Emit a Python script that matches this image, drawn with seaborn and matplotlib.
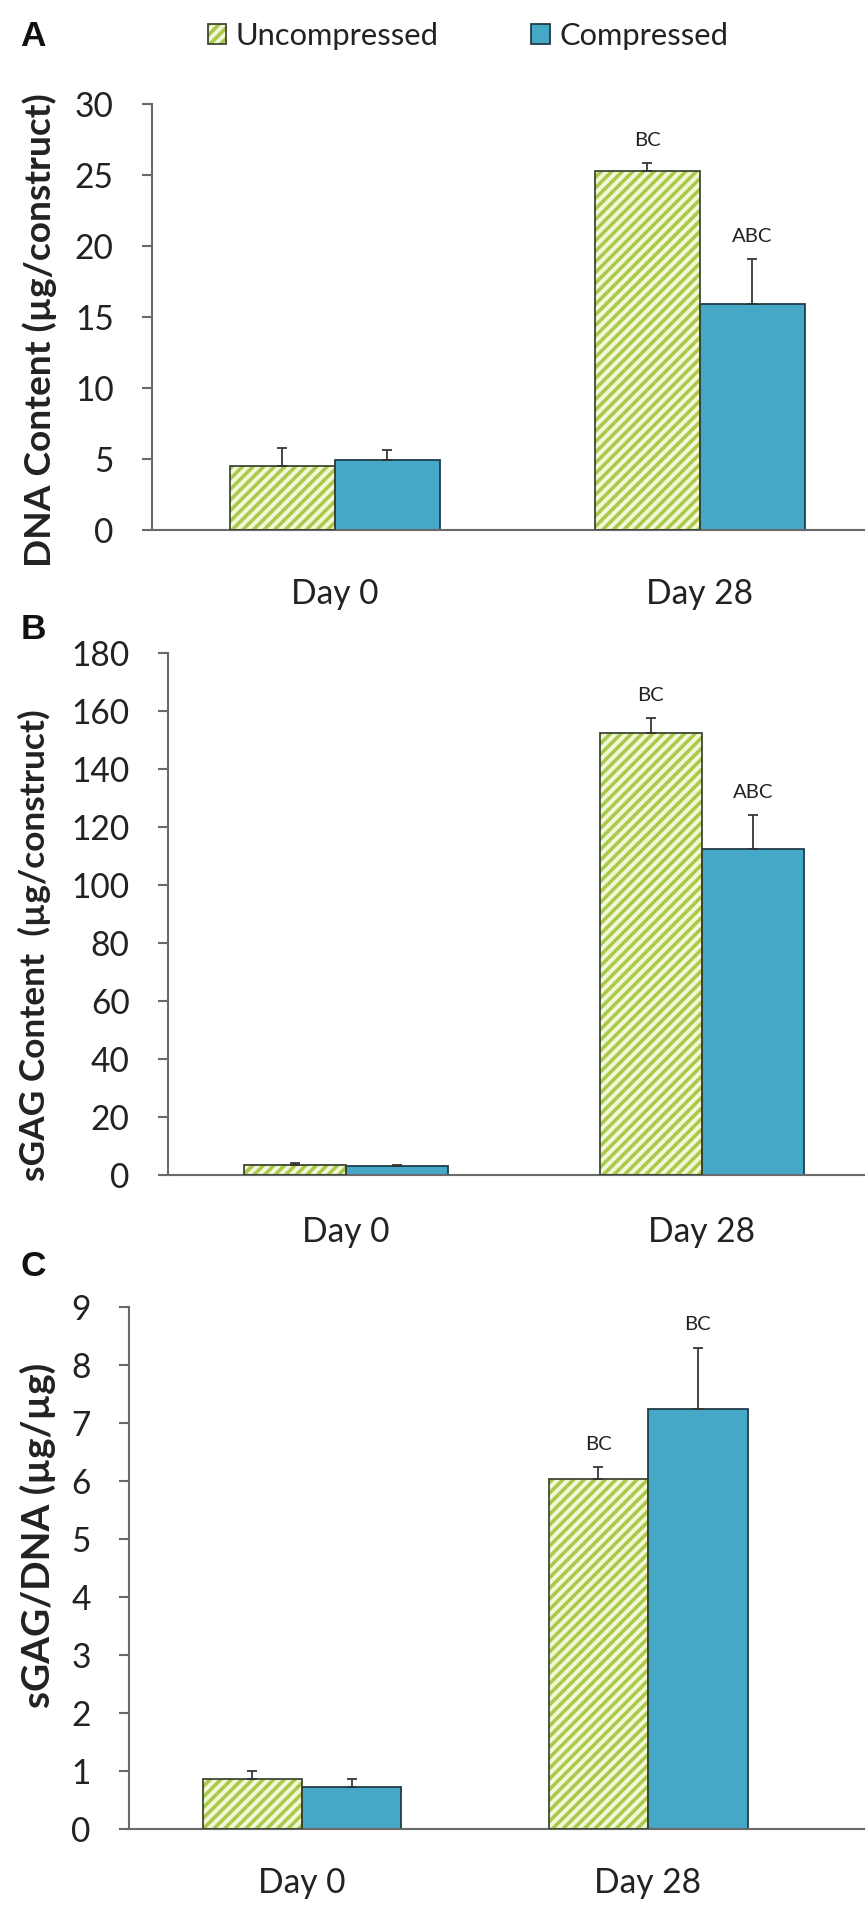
import numpy as np
import pandas as pd
import matplotlib
matplotlib.use('Agg')
import matplotlib.pyplot as plt
from matplotlib.patches import Patch, Rectangle
from matplotlib.legend_handler import HandlerTuple
from matplotlib.ticker import FixedLocator
import seaborn as sns

# categories
days = ['Day 0', 'Day 28']
groups = ['Uncompressed', 'Compressed']

# A: DNA content (ug/construct), [Day 0, Day 28]
dna_unc = [4.5, 25.3]
dna_unc_err = [1.3, 0.55]
dna_com = [4.95, 15.9]
dna_com_err = [0.7, 3.2]
dna_unc_sig = ['', 'BC']
dna_com_sig = ['', 'ABC']

# B: sGAG content (ug/construct)
gag_unc = [3.5, 152.5]
gag_unc_err = [0.5, 5.0]
gag_com = [3.2, 112.5]
gag_com_err = [0.3, 11.5]
gag_unc_sig = ['', 'BC']
gag_com_sig = ['', 'ABC']

# C: sGAG/DNA (ug/ug)
ratio_unc = [0.86, 6.04]
ratio_unc_err = [0.14, 0.2]
ratio_com = [0.72, 7.25]
ratio_com_err = [0.14, 1.05]
ratio_unc_sig = ['', 'BC']
ratio_com_sig = ['', 'BC']

DPI = 127
W, H = 865, 1906

pale = '#f3f7d6'
green = '#a9c94c'
blue = '#44a8c6'
dark_edge = '#3a4530'
blue_edge = '#1d3b47'
axis_col = '#6a6a6a'
text_col = '#222222'

sns.set_style('white')
plt.rcParams['font.family'] = ['Lato', 'DejaVu Sans']
plt.rcParams['hatch.linewidth'] = 2.0

fig = plt.figure(figsize=(W / DPI, H / DPI), dpi=DPI)


def px_axes(left, zero_y, top_y):
    # axes box from pixel positions of the y axis, the zero line and the top tick
    return fig.add_axes([left / W, 1 - zero_y / H, (W - left) / W, (zero_y - top_y) / H])


def draw_panel(ax, unc, unc_err, com, com_err, unc_sig, com_sig, ymax, ystep, xmax, xpad):
    df = pd.DataFrame({
        'day': days * 2,
        'group': [groups[0]] * 2 + [groups[1]] * 2,
        'value': unc + com,
    })
    sns.barplot(data=df, x='day', y='value', hue='group', order=days, hue_order=groups,
                palette=[pale, blue], saturation=1, width=0.575, gap=0,
                errorbar=None, legend=False, ax=ax, zorder=2)

    errs = [unc_err, com_err]
    sigs = [unc_sig, com_sig]
    bar_conts = list(ax.containers)
    for i, cont in enumerate(bar_conts):
        xs, ys = [], []
        for bar in cont:
            if i == 0:
                bar.set_hatch('////')
                bar.set_edgecolor(green)
                bar.set_linewidth(0)
                ax.add_patch(Rectangle((bar.get_x(), 0), bar.get_width(), bar.get_height(),
                                       fill=False, edgecolor=dark_edge, lw=1.0, zorder=3))
            else:
                bar.set_edgecolor(blue_edge)
                bar.set_linewidth(1.0)
            xs.append(bar.get_x() + bar.get_width() / 2)
            ys.append(bar.get_height())
        ax.errorbar(xs, ys, yerr=[np.zeros(len(ys)), errs[i]], fmt='none',
                    ecolor='#333333', elinewidth=1.0, capsize=3, capthick=1.0, zorder=4)
        for x, y, e, s in zip(xs, ys, errs[i], sigs[i]):
            if s:
                ax.annotate(s, (x, y + e), xytext=(0, 8), textcoords='offset points',
                            ha='center', va='bottom', fontsize=11.5, color=text_col)

    ax.set_xlim(-0.5, xmax)
    ax.set_ylim(0, ymax)
    ax.set_yticks(np.arange(0, ymax + ystep / 2, ystep))
    ax.set_xticks([0, 1])
    ax.set_xticklabels(days)
    ax.xaxis.set_minor_locator(FixedLocator([-0.5, 0.5]))
    ax.set_xlabel('')
    ax.set_ylabel('')
    for side in ['top', 'right']:
        ax.spines[side].set_visible(False)
    for side in ['left', 'bottom']:
        ax.spines[side].set_color(axis_col)
        ax.spines[side].set_linewidth(1.2)
    ax.tick_params(axis='x', which='major', length=0, pad=xpad, labelsize=19, labelcolor=text_col)
    ax.tick_params(axis='x', which='minor', length=5.7, width=1.2, color=axis_col, direction='out')
    ax.tick_params(axis='y', length=5.7, width=1.2, color=axis_col, direction='out',
                   pad=16, labelsize=19, labelcolor=text_col, left=True)


axA = px_axes(152, 530, 104)
draw_panel(axA, dna_unc, dna_unc_err, dna_com, dna_com_err, dna_unc_sig, dna_com_sig,
           30, 5, 1.453, 27)
axB = px_axes(168, 1175, 653)
draw_panel(axB, gag_unc, gag_unc_err, gag_com, gag_com_err, gag_unc_sig, gag_com_sig,
           180, 20, 1.458, 23)
axC = px_axes(129, 1829, 1307)
draw_panel(axC, ratio_unc, ratio_unc_err, ratio_com, ratio_com_err, ratio_unc_sig, ratio_com_sig,
           9, 1, 1.627, 21.5)

# y labels and panel letters
ylabels = ['DNA Content (µg/construct)', 'sGAG Content  (µg/construct)', 'sGAG/DNA (µg/µg)']
ylabel_xy = [(40, 330), (34, 945), (38, 1535)]
ylabel_size = [21, 20, 22]
for lab, (x, y), fs in zip(ylabels, ylabel_xy, ylabel_size):
    fig.text(x / W, 1 - y / H, lab, rotation=90, ha='center', va='center',
             fontsize=fs, fontweight='bold', color=text_col)

letters = ['A', 'B', 'C']
letter_xy = [(33, 36), (33, 629), (33, 1267)]
for lab, (x, y) in zip(letters, letter_xy):
    fig.text(x / W, 1 - y / H, lab, ha='center', va='center', fontsize=20,
             fontweight='bold', family=['Liberation Sans', 'DejaVu Sans'], color='#111111')

handles = [(Patch(facecolor=pale, edgecolor=green, hatch='////', lw=0),
            Patch(fill=False, edgecolor=dark_edge, lw=1.0)),
           Patch(facecolor=blue, edgecolor=blue_edge, lw=1.0)]
fig.legend(handles, groups, handler_map={tuple: HandlerTuple(ndivide=1, pad=0)},
           loc='center', bbox_to_anchor=(0.541, 1 - 36 / H), ncol=2,
           frameon=False, fontsize=17.5, handlelength=0.6, handleheight=0.6,
           handletextpad=0.3, columnspacing=3.0, labelcolor=text_col)

fig.savefig('out.png', dpi=DPI)
